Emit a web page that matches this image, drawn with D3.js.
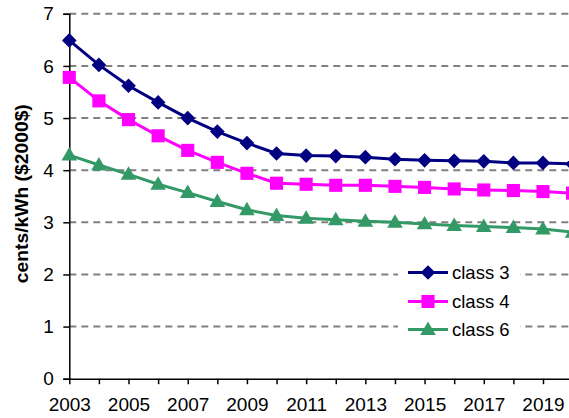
<!DOCTYPE html>
<html>
<head>
<meta charset="utf-8">
<script src="https://cdn.jsdelivr.net/npm/d3@7"></script>
<style>
  html, body { margin: 0; padding: 0; background: #fff; }
  svg { display: block; font-family: Arial, "Liberation Sans", sans-serif; }
</style>
</head>
<body>
<svg id="chart" width="569" height="418"></svg>
<script>
// Levelized cost by wind class, cents/kWh in 2000 dollars
const years = [2003, 2004, 2005, 2006, 2007, 2008, 2009, 2010, 2011, 2012,
               2013, 2014, 2015, 2016, 2017, 2018, 2019, 2020];
const class3 = [6.49, 6.02, 5.62, 5.30, 5.00, 4.74, 4.52, 4.32, 4.28, 4.27,
                4.25, 4.21, 4.19, 4.18, 4.17, 4.14, 4.14, 4.12];
const class4 = [5.78, 5.33, 4.97, 4.66, 4.38, 4.15, 3.94, 3.75, 3.73, 3.71,
                3.71, 3.69, 3.67, 3.64, 3.62, 3.61, 3.59, 3.56];
const class6 = [4.29, 4.10, 3.92, 3.73, 3.57, 3.40, 3.24, 3.13, 3.08, 3.05,
                3.02, 3.00, 2.97, 2.94, 2.92, 2.90, 2.87, 2.81];
const seriesNames = ["class 3", "class 4", "class 6"];
const yTicks = [0, 1, 2, 3, 4, 5, 6, 7];
const xTickLabels = [2003, 2005, 2007, 2009, 2011, 2013, 2015, 2017, 2019];
const yTitle = "cents/kWh ($2000$)";

const series = [
  { name: seriesNames[0], values: class3, color: "#000080", marker: "diamond" },
  { name: seriesNames[1], values: class4, color: "#FF00FF", marker: "square" },
  { name: seriesNames[2], values: class6, color: "#339966", marker: "triangle" }
];

const svg = d3.select("#chart");
const plotLeft = 69.3, plotRight = 572.6, plotTop = 13.8, plotBottom = 378.7;
const fontFamily = "Arial, 'Liberation Sans', sans-serif";

const x = d3.scaleLinear().domain([2003, 2020]).range([plotLeft, plotRight]);
const y = d3.scaleLinear().domain([0, 7]).range([plotBottom, plotTop]);

// dashed horizontal gridlines
svg.append("g")
  .selectAll("line")
  .data(yTicks.filter(d => d > 0))
  .join("line")
  .attr("x1", plotLeft).attr("x2", 569)
  .attr("y1", d => y(d)).attr("y2", d => y(d))
  .attr("stroke", "#808080")
  .attr("stroke-width", 2)
  .attr("stroke-dasharray", "7,5");

// y axis
const yAxis = svg.append("g")
  .attr("transform", `translate(${plotLeft},0)`)
  .call(d3.axisLeft(y).tickValues(yTicks).tickSize(6).tickPadding(9.5).tickFormat(d3.format("d")));
yAxis.select(".domain").attr("stroke", "#000").attr("stroke-width", 1.5);
yAxis.selectAll(".tick line").attr("stroke", "#000").attr("stroke-width", 1.5);
yAxis.selectAll(".tick text").attr("font-size", 19).attr("fill", "#000")
  .attr("font-family", fontFamily);

// x axis: a tick every year, labels every other year
const xAxis = svg.append("g")
  .attr("transform", `translate(0,${plotBottom})`)
  .call(d3.axisBottom(x).tickValues(years).tickSize(5.5).tickSizeOuter(0).tickPadding(13)
    .tickFormat(d => xTickLabels.includes(d) ? String(d) : ""));
xAxis.select(".domain").attr("stroke", "#000").attr("stroke-width", 1.5);
xAxis.selectAll(".tick line").attr("stroke", "#000").attr("stroke-width", 1.5);
xAxis.selectAll(".tick text").attr("font-size", 19).attr("fill", "#000")
  .attr("font-family", fontFamily);

// y axis title
svg.append("text")
  .attr("transform", `translate(27.5,193.7) rotate(-90)`)
  .attr("text-anchor", "middle")
  .attr("font-weight", "bold")
  .attr("font-size", 17.5)
  .attr("textLength", 179)
  .attr("lengthAdjust", "spacingAndGlyphs")
  .attr("fill", "#000")
  .text(yTitle);

// square-proportioned diamond (a square turned 45°)
const squareDiamond = {
  draw(context, size) {
    const r = Math.sqrt(size / 2);
    context.moveTo(0, -r);
    context.lineTo(r, 0);
    context.lineTo(0, r);
    context.lineTo(-r, 0);
    context.closePath();
  }
};

const symbolOf = {
  diamond: d3.symbol().type(squareDiamond).size(108),
  square: d3.symbol().type(d3.symbolSquare).size(172),
  triangle: d3.symbol().type(d3.symbolTriangle).size(105)
};

const line = d3.line().x((d, i) => x(years[i])).y(d => y(d));

series.forEach(s => {
  const g = svg.append("g");
  g.append("path")
    .attr("d", line(s.values))
    .attr("fill", "none")
    .attr("stroke", s.color)
    .attr("stroke-width", 3)
    .attr("stroke-linejoin", "round");
  g.selectAll("path.m")
    .data(s.values)
    .join("path")
    .attr("class", "m")
    .attr("d", symbolOf[s.marker])
    .attr("transform", (d, i) => `translate(${x(years[i])},${y(d) + (s.marker === "triangle" ? 1 : 0)})`)
    .attr("fill", s.color);
});

// legend
const legend = svg.append("g");
legend.append("rect")
  .attr("x", 398).attr("y", 258).attr("width", 122).attr("height", 86)
  .attr("fill", "#fff");
const legendRows = [272.5, 301.5, 329.5];
series.forEach((s, i) => {
  const ly = legendRows[i];
  legend.append("line")
    .attr("x1", 408).attr("x2", 448).attr("y1", ly).attr("y2", ly)
    .attr("stroke", s.color).attr("stroke-width", 3);
  legend.append("path")
    .attr("d", symbolOf[s.marker])
    .attr("transform", `translate(428,${ly + (s.marker === "triangle" ? 1 : 0)})`)
    .attr("fill", s.color);
  legend.append("text")
    .attr("x", 452).attr("y", ly)
    .attr("dy", "0.35em")
    .attr("font-size", 18.5)
    .attr("fill", "#000")
    .text(s.name);
});
</script>
</body>
</html>
